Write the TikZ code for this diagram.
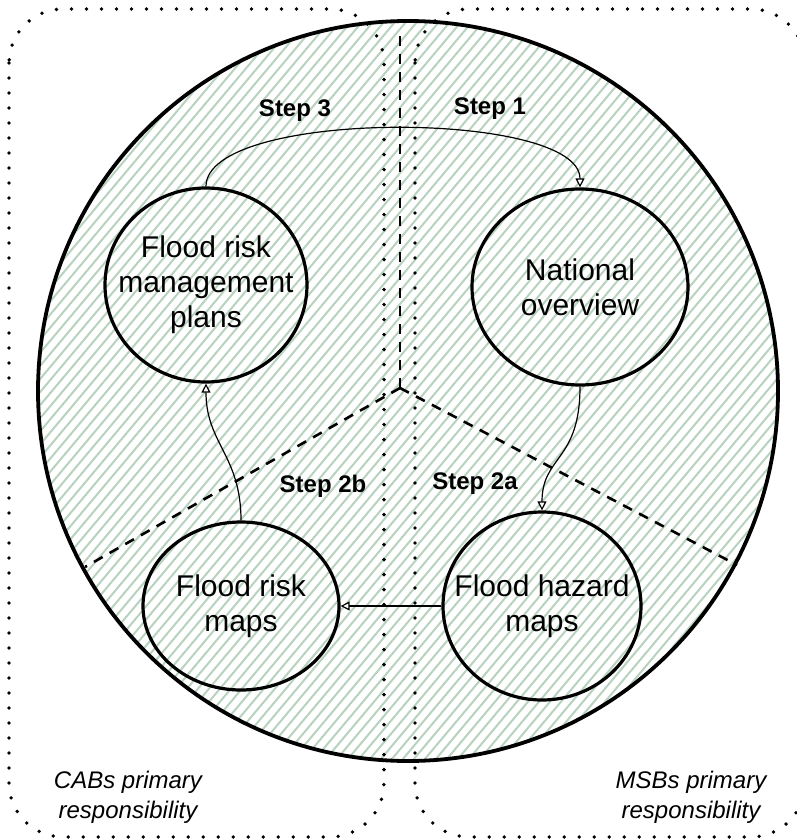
\documentclass[tikz,border=0pt]{standalone}
\usepackage{fontspec}
\setmainfont{Liberation Sans}
\usetikzlibrary{arrows.meta, shapes.geometric}
\definecolor{hatchgreen}{RGB}{184,210,190}

\begin{document}
\begin{tikzpicture}[x=0.5pt, y=-0.5pt,
		stage/.style={ellipse, draw, line width=1.6pt, inner sep=0pt},
		stagetext/.style={align=center, font=\fontsize{15}{17.5}\selectfont},
		flow/.style={line width=0.6pt, -{Triangle[fill=white, length=4.5pt, width=4.5pt]}},
		steplabel/.style={font=\bfseries\fontsize{12}{14}\selectfont},
		divider/.style={line width=1.3pt, dash pattern=on 5pt off 4pt},
		zone/.style={line width=1.9pt, line cap=round, dash pattern=on 0pt off 7.5pt, rounded corners=27pt},
		zonetext/.style={align=center, font=\itshape\fontsize{12}{15}\selectfont}]
		\useasboundingbox (0,0) rectangle (797,840);
		
		%hatched disc
		\begin{scope}
			\clip (408,391) circle (370);
			\foreach \x in {-80, -69, ..., 900}{
				\draw[hatchgreen, line width=1pt] (\x-336, 791) -- (\x+336, -9);
			}
		\end{scope}
		
		%responsibility zones
		\draw[zone] (9,9) rectangle (384,837);
		\draw[zone] (415,9) rectangle (805,837);
		\node (cabs) at (128,797) [zonetext]{CABs primary\\responsibility};
		\node (msbs) at (691,797) [zonetext]{MSBs primary\\responsibility};
		
		\draw[line width=1.9pt] (408,391) circle (370);
		
		%dividers
		\coordinate (hub) at (400,388);
		\coordinate (rimtop) at (400,30);
		\coordinate (rimleft) at (85,567);
		\coordinate (rimright) at (737,565);
		\draw[divider] (hub) -- (rimtop);
		\draw[divider] (hub) -- (rimleft);
		\draw[divider] (hub) -- (rimright);
		
		%stages
		\node (plans) at (206,285) [stage, minimum width=101pt, minimum height=97pt,
			label={[stagetext]center:Flood risk\\management\\plans}]{};
		\node (overview) at (580,287) [stage, minimum width=108pt, minimum height=98pt,
			label={[stagetext]center:National\\overview}]{};
		\node (riskmaps) at (241,606) [stage, minimum width=98pt, minimum height=84pt,
			label={[stagetext]center:Flood risk\\maps}]{};
		\node (hazardmaps) at (542,606) [stage, minimum width=99pt, minimum height=94pt,
			label={[stagetext]center:Flood hazard\\maps}]{};
		
		%flows
		\draw[flow] (plans.north) .. controls +(0,-78) and +(0,-78) .. (overview.north);
		\draw[flow] (overview.south) .. controls +(0,75) and +(0,-55) .. (hazardmaps.north);
		\draw[flow] (hazardmaps.west) -- (riskmaps.east);
		\draw[flow] (riskmaps.north) .. controls +(0,-65) and +(0,60) .. (plans.south);
		
		\node (step3) at (295,111) [steplabel]{Step 3};
		\node (step1) at (490,109) [steplabel]{Step 1};
		\node (step2b) at (323,486) [steplabel]{Step 2b};
		\node (step2a) at (475,484) [steplabel]{Step 2a};
\end{tikzpicture}
\end{document}
